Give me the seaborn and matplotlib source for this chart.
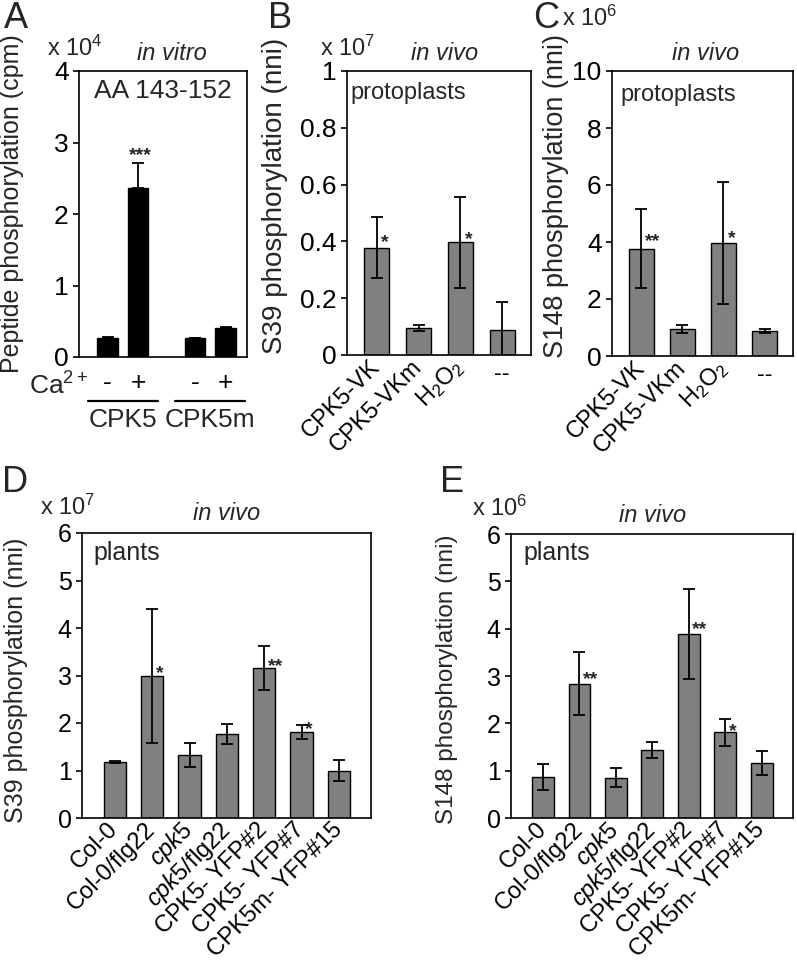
import numpy as np
import pandas as pd
import seaborn as sns
import matplotlib.pyplot as plt
from matplotlib.ticker import FuncFormatter
from matplotlib.transforms import blended_transform_factory

# panel A, in vitro peptide phosphorylation (x 10^4 cpm)
a_ca = ["-", "+", "-", "+"]
a_groups = ["CPK5", "CPK5m"]
a_values = [0.26, 2.36, 0.26, 0.40]
a_err = [0.02, 0.35, 0.01, 0.02]
a_stars = ["", "***", "", ""]
a_star_y = [0, 2.91, 0, 0]

# panels B and C, protoplasts
bc_labels = ["CPK5-VK", "CPK5-VKm", "H$_2$O$_2$", "--"]
b_values = [0.378, 0.095, 0.397, 0.088]
b_err = [0.107, 0.011, 0.160, 0.099]
b_stars = ["*", "", "*", ""]
b_star_y = [0.42, 0, 0.43, 0]
c_values = [3.77, 0.95, 3.97, 0.88]
c_err = [1.40, 0.13, 2.13, 0.08]
c_stars = ["**", "", "*", ""]
c_star_y = [4.24, 0, 4.35, 0]

# panels D and E, plants
de_labels = ["Col-0", "Col-0/flg22", r"$\it{cpk5}$", r"$\it{cpk5}$/flg22",
             "CPK5- YFP#2", "CPK5- YFP#7", "CPK5m- YFP#15"]
d_values = [1.18, 2.98, 1.33, 1.76, 3.16, 1.81, 1.00]
d_err = [0.02, 1.41, 0.25, 0.21, 0.47, 0.15, 0.23]
d_stars = ["", "*", "", "", "**", "*", ""]
d_star_y = [0, 3.19, 0, 0, 3.33, 2.00, 0]
e_values = [0.87, 2.84, 0.85, 1.44, 3.89, 1.81, 1.16]
e_err = [0.28, 0.66, 0.20, 0.165, 0.95, 0.28, 0.26]
e_stars = ["", "**", "", "", "**", "*", ""]
e_star_y = [0, 3.06, 0, 0, 4.12, 1.97, 0]

W, H = 797, 969
GREY = "#808080"

sns.set_theme(style="ticks")
plt.rcParams["font.family"] = ["Liberation Sans", "DejaVu Sans"]
plt.rcParams.update({
    "mathtext.fontset": "custom",
    "mathtext.rm": "Liberation Sans",
    "mathtext.it": "Liberation Sans:italic",
    "axes.linewidth": 1.2,
    "axes.edgecolor": "black",
    "ytick.major.size": 4.5,
    "ytick.major.width": 1.2,
    "ytick.direction": "out",
    "xtick.major.size": 0,
    "ytick.color": "black",
    "xtick.color": "black",
})

fig = plt.figure(figsize=(W / 100, H / 100), dpi=100)


def box(left, top, right, bottom):
    return [left / W, 1 - bottom / H, (right - left) / W, (bottom - top) / H]


def put(x, y, s, **kw):
    fig.text(x / W, 1 - y / H, s, **kw)


def add_errors(ax, x, values, err, upper_only=False):
    lower = [0] * len(err) if upper_only else err
    ax.errorbar(x, values, yerr=[lower, err], fmt="none", ecolor="black",
                elinewidth=1.3, capsize=4, capthick=1.3, zorder=5)


def add_stars(ax, x, stars, ys, dx=0.1, size=14):
    for xi, s, y in zip(x, stars, ys):
        if s:
            ax.annotate(s, (xi + dx, y), xytext=(0, -8), textcoords="offset points",
                        ha="left", va="baseline", fontsize=size, fontweight="bold")


def style_axis(ax, ylim, step, tick_size):
    ax.set_ylim(*ylim)
    ax.set_yticks(np.arange(ylim[0], ylim[1] + step / 2, step))
    ax.yaxis.set_major_formatter(FuncFormatter(lambda v, _: "{:g}".format(round(v, 3))))
    ax.tick_params(axis="y", labelsize=tick_size, pad=3)
    ax.set_xlabel("")
    ax.set_ylabel("")
    for sp in ax.spines.values():
        sp.set_visible(True)
        sp.set_linewidth(1.2)


def category_panel(ax, labels, values, err, stars, star_y, ylim, step, tick_size):
    sns.barplot(x=list(range(len(values))), y=values, color=GREY, saturation=1,
                edgecolor="black", linewidth=1.0, width=0.6, errorbar=None, ax=ax)
    x = np.arange(len(values))
    add_errors(ax, x, values, err)
    add_stars(ax, x, stars, star_y)
    style_axis(ax, ylim, step, tick_size)
    if len(values) < 5:
        ax.set_xlim(-0.71, len(values) - 0.31)
    else:
        ax.set_xlim(-0.88, len(values) - 0.14)
    ax.set_xticks(x)
    ax.set_xticklabels(labels, rotation=45, ha="right", va="center",
                       rotation_mode="anchor", fontsize=17)
    ax.tick_params(axis="x", pad=6)
    for t in ax.get_xticklabels():
        if t.get_text() == "--":
            t.set_rotation(0)
            t.set_ha("center")
            t.set_va("top")


# ---- A ----
a_pos = [0, 1, 2.85, 3.85]
axA = fig.add_axes(box(79, 71, 247, 357))
a_df = pd.DataFrame({"pos": a_pos, "val": a_values})
sns.barplot(data=a_df, x="pos", y="val", native_scale=True, orient="x", width=0.66,
            color="black", saturation=1, edgecolor="black", errorbar=None, ax=axA)
add_errors(axA, a_pos, a_values, a_err, upper_only=True)
add_stars(axA, a_pos, a_stars, a_star_y, dx=-0.3)
style_axis(axA, (0, 4), 1, 19)
axA.set_xlim(-0.93, 4.55)
axA.set_xticks(a_pos)
axA.set_xticklabels(a_ca, fontsize=19)
axA.tick_params(axis="x", pad=10)
tr = blended_transform_factory(axA.transData, axA.transAxes)
for g, grp in enumerate(a_groups):
    mid = (a_pos[2 * g] + a_pos[2 * g + 1]) / 2
    axA.plot([mid - 1.15, mid + 1.15], [-0.153, -0.153], color="black", lw=1.6,
             transform=tr, clip_on=False)
    axA.text(mid, -0.222, grp, transform=tr, ha="center", va="center", fontsize=19)
put(88, 386, "Ca$^{2+}$", ha="right", va="center", fontsize=19)
put(163, 91, "AA 143-152", ha="center", va="center", fontsize=19)
put(12, 204, "Peptide phosphorylation (cpm)", rotation=90, ha="center", va="center", fontsize=18)
put(47, 48, "x 10$^4$", ha="left", va="center", fontsize=17)
put(172, 54, "in vitro", ha="center", va="center", fontsize=17, style="italic")
put(16, 19, "A", ha="center", va="center", fontsize=26)

# ---- B ----
axB = fig.add_axes(box(347, 71, 531, 355))
category_panel(axB, bc_labels, b_values, b_err, b_stars, b_star_y, (0, 1), 0.2, 19)
put(350, 93, "protoplasts", ha="left", va="center", fontsize=17)
put(275, 196, "S39 phosphorylation (nni)", rotation=90, ha="center", va="center", fontsize=20)
put(320, 48, "x 10$^7$", ha="left", va="center", fontsize=17)
put(445, 54, "in vivo", ha="center", va="center", fontsize=17, style="italic")
put(280, 19, "B", ha="center", va="center", fontsize=26)

# ---- C ----
axC = fig.add_axes(box(612, 71, 793, 356))
category_panel(axC, bc_labels, c_values, c_err, c_stars, c_star_y, (0, 10), 2, 19)
put(620, 95, "protoplasts", ha="left", va="center", fontsize=17)
put(556, 196, "S148 phosphorylation (nni)", rotation=90, ha="center", va="center", fontsize=19.5)
put(562, 18, "x 10$^6$", ha="left", va="center", fontsize=17)
put(706, 54, "in vivo", ha="center", va="center", fontsize=17, style="italic")
put(546, 18, "C", ha="center", va="center", fontsize=26)

# ---- D ----
axD = fig.add_axes(box(82, 533, 371, 818))
category_panel(axD, de_labels, d_values, d_err, d_stars, d_star_y, (0, 6), 1, 18)
put(93, 553, "plants", ha="left", va="center", fontsize=18)
put(16, 680, "S39 phosphorylation (nni)", rotation=90, ha="center", va="center", fontsize=18)
put(40, 507, "x 10$^7$", ha="left", va="center", fontsize=17)
put(227, 514, "in vivo", ha="center", va="center", fontsize=17, style="italic")
put(15, 483, "D", ha="center", va="center", fontsize=26)

# ---- E ----
axE = fig.add_axes(box(511, 534, 793, 818))
category_panel(axE, de_labels, e_values, e_err, e_stars, e_star_y, (0, 6), 1, 18)
put(523, 553, "plants", ha="left", va="center", fontsize=18)
put(447, 679, "S148 phosphorylation (nni)", rotation=90, ha="center", va="center", fontsize=17.5)
put(472, 508, "x 10$^6$", ha="left", va="center", fontsize=17)
put(653, 515, "in vivo", ha="center", va="center", fontsize=17, style="italic")
put(452, 483, "E", ha="center", va="center", fontsize=26)

plt.savefig("out.png", dpi=100)
